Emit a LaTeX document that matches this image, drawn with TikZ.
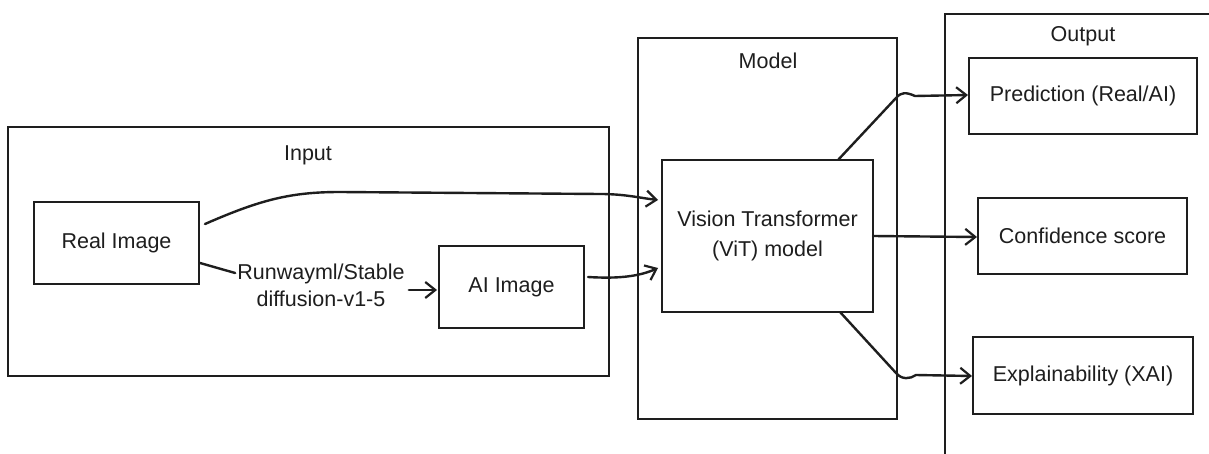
\documentclass[tikz,border=0pt]{standalone}
\usepackage{fontspec}
\setmainfont{Liberation Sans}
\usetikzlibrary{arrows.meta,calc}

\definecolor{ink}{HTML}{1E1E1E}

\tikzset{
  frame/.style={draw=ink, line width=2.2pt, inner sep=0pt, outer sep=0pt},
  card/.style={draw=ink, line width=2.2pt, inner sep=0pt, outer sep=0pt,
               align=center, text=ink, font=\fontsize{21.5}{30}\selectfont},
  caption/.style={font=\fontsize{21.5}{28}\selectfont, text=ink, inner sep=2pt},
  link/.style={draw=ink, line width=2.4pt, line cap=round, line join=round},
  flow/.style={link, -{Straight Barb[length=10pt,width=16pt,line width=2.2pt]}},
}

\begin{document}
\begin{tikzpicture}[x=1pt, y=-1pt]
  \useasboundingbox[fill=white] (0,0) rectangle (1209,454);

  % group frames
  \node[frame, minimum width=601pt, minimum height=249pt] (input)  at (308.5,251.5) {};
  \node[frame, minimum width=259pt, minimum height=381pt] (model)  at (767.5,228.5) {};
  \node[frame, minimum width=300pt, minimum height=470pt] (output) at (1095,249) {};

  \node[caption] (inputlbl)  at (308,155) {Input};
  \node[caption] (modellbl)  at (768,61)  {Model};
  \node[caption] (outputlbl) at (1083,36) {Output};

  % input stage
  \node[card, minimum width=165pt, minimum height=82pt] (real) at (116.5,243) {Real Image};
  \node[card, minimum width=145pt, minimum height=82pt] (ai)   at (511.5,287) {AI Image};
  \node[caption, align=center, font=\fontsize{21.5}{27}\selectfont] (gen) at (321,285)
       {Runwayml/Stable\\diffusion-v1-5};

  % model
  \node[card, minimum width=211pt, minimum height=152pt] (vit) at (767.5,236)
       {Vision Transformer\\(ViT) model};

  % outputs
  \node[card, minimum width=228pt, minimum height=76pt] (pred) at (1083,96)    {Prediction (Real/AI)};
  \node[card, minimum width=209pt, minimum height=76pt] (conf) at (1082.5,236) {Confidence score};
  \node[card, minimum width=220pt, minimum height=77pt] (expl) at (1083,375.5) {Explainability (XAI)};

  % connectors
  \draw[flow] ($(real.east)+(6,-19)$) .. controls (260,200) and (290,192) .. (340,192)
              -- (600,194) .. controls (625,194) and (640,198) .. ($(vit.west)+(-4,-36)$);
  \draw[link] ($(real.east)+(1,20)$) -- ($(gen.west)+(0,-12)$);
  \draw[flow] ($(gen.east)+(2,5)$) -- ($(ai.west)+(-2,3)$);
  \draw[flow] ($(ai.east)+(4,-10)$) .. controls (620,279) and (640,276) .. ($(vit.west)+(-4,32)$);

  \draw[flow] ($(vit.north east)+(-35,0)$) -- (896,98)
              .. controls (901,92) and (906,92) .. (915,96) -- ($(pred.west)+(-1,-1)$);
  \draw[flow] (vit.east) -- ($(conf.west)+(-1,1)$);
  \draw[flow] ($(vit.south east)+(-33,0)$) -- (896,373)
              .. controls (902,380) and (910,379) .. (916,375) -- ($(expl.west)+(-1,0.5)$);
\end{tikzpicture}
\end{document}
